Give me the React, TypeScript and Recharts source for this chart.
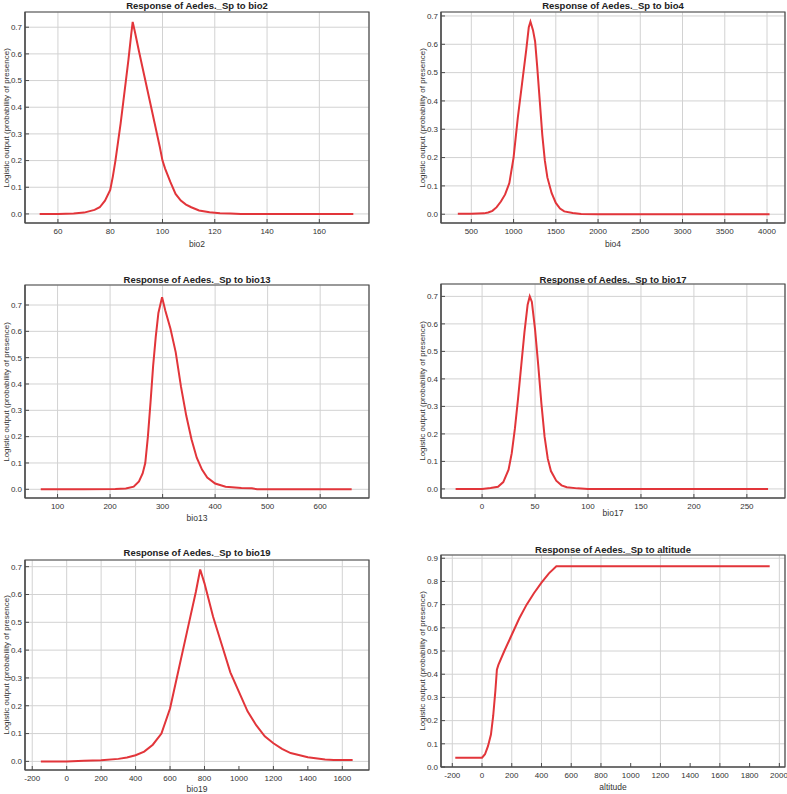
import { LineChart, Line, XAxis, YAxis, CartesianGrid, ReferenceArea } from 'recharts';

const SPECIES = 'Aedes._Sp';
const Y_LABEL = 'Logistic output (probability of presence)';

const bio2X = [53, 60, 66, 70, 74, 76, 78, 80, 81, 82, 83, 84, 85, 86, 87, 88, 88.6, 89.5, 91, 93, 95, 97, 99, 100, 101, 103, 105, 107, 109, 111, 114, 118, 122, 126, 130, 173];
const bio2Y = [0, 0, 0.002, 0.005, 0.015, 0.025, 0.05, 0.09, 0.14, 0.2, 0.27, 0.34, 0.42, 0.5, 0.58, 0.67, 0.72, 0.68, 0.61, 0.52, 0.43, 0.34, 0.25, 0.2, 0.17, 0.12, 0.075, 0.05, 0.035, 0.025, 0.013, 0.006, 0.003, 0.002, 0, 0];

const bio4X = [340, 500, 650, 700, 750, 800, 850, 900, 950, 1000, 1050, 1100, 1150, 1180, 1200, 1230, 1255, 1280, 1310, 1340, 1370, 1400, 1450, 1500, 1550, 1600, 1700, 1800, 2000, 4030];
const bio4Y = [0.002, 0.002, 0.003, 0.006, 0.012, 0.025, 0.045, 0.07, 0.11, 0.2, 0.34, 0.46, 0.58, 0.66, 0.68, 0.65, 0.61, 0.52, 0.4, 0.28, 0.19, 0.13, 0.075, 0.04, 0.02, 0.01, 0.004, 0.001, 0, 0];

const bio13X = [68, 150, 210, 230, 245, 255, 262, 267, 272, 277, 282, 287, 292, 299, 305, 315, 325, 335, 345, 355, 365, 375, 385, 400, 420, 450, 470, 480, 660];
const bio13Y = [0, 0, 0.001, 0.003, 0.01, 0.03, 0.06, 0.1, 0.2, 0.33, 0.47, 0.58, 0.67, 0.73, 0.68, 0.61, 0.52, 0.39, 0.28, 0.19, 0.12, 0.075, 0.045, 0.022, 0.01, 0.005, 0.004, 0, 0];

const bio17X = [-25, 0, 8, 15, 20, 25, 28, 31, 34, 37, 40, 43, 45, 47, 50, 53, 56, 59, 62, 65, 70, 75, 80, 90, 100, 270];
const bio17Y = [0, 0, 0.003, 0.008, 0.025, 0.07, 0.13, 0.22, 0.33, 0.45, 0.57, 0.67, 0.7, 0.68, 0.58, 0.45, 0.31, 0.19, 0.11, 0.065, 0.03, 0.013, 0.006, 0.002, 0, 0];

const bio19X = [-150, 0, 100, 200, 300, 350, 400, 450, 500, 550, 600, 650, 700, 750, 775, 800, 850, 900, 950, 1000, 1050, 1100, 1150, 1200, 1250, 1300, 1400, 1500, 1550, 1660];
const bio19Y = [0, 0, 0.002, 0.004, 0.009, 0.014, 0.022, 0.035, 0.06, 0.1, 0.19, 0.33, 0.47, 0.61, 0.69, 0.64, 0.52, 0.42, 0.32, 0.25, 0.18, 0.13, 0.09, 0.065, 0.045, 0.03, 0.015, 0.007, 0.005, 0.005];

const altX = [-180, -100, 0, 20, 40, 60, 75, 90, 100, 110, 150, 200, 250, 300, 350, 400, 450, 500, 1935];
const altY = [0.04, 0.04, 0.04, 0.055, 0.09, 0.14, 0.22, 0.33, 0.42, 0.44, 0.5, 0.57, 0.64, 0.7, 0.75, 0.795, 0.835, 0.865, 0.865];

const ticks07 = [0, 0.1, 0.2, 0.3, 0.4, 0.5, 0.6, 0.7];
const ticks09 = [0, 0.1, 0.2, 0.3, 0.4, 0.5, 0.6, 0.7, 0.8, 0.9];

const zip = (xs: number[], ys: number[]) => xs.map((x, i) => ({ x, y: ys[i] }));

const FONT = '"Liberation Sans", Arial, sans-serif';
const FRAME = '#4a4a4a';

interface PanelProps {
  variable: string;
  box: [number, number, number, number]; // plot left, top, right, bottom
  xDomain: [number, number];
  xTicks: number[];
  yDomain: [number, number];
  yTicks: number[];
  xs: number[];
  ys: number[];
  titleY: number;
  xLabelY: number;
  yLabelX: number;
}

function Panel({ variable, box, xDomain, xTicks, yDomain, yTicks, xs, ys, titleY, xLabelY, yLabelX }: PanelProps) {
  const [x0, y0, x1, y1] = box;
  const data = zip(xs, ys);
  const tickStyle = { fontSize: 8, fill: '#333', fontFamily: FONT };
  const axisLine = { stroke: FRAME, strokeWidth: 1.2 };
  const tickLine = { stroke: FRAME };
  return (
    <>
      <div style={{ position: 'absolute', left: x0 - 25, top: y0 - 10 }}>
        <LineChart width={x1 - x0 + 27} height={y1 - y0 + 30} data={data} margin={{ top: 10, right: 2, left: 0, bottom: 0 }}>
          <CartesianGrid stroke="#d2d2d2" strokeWidth={1} />
          <XAxis dataKey="x" type="number" domain={xDomain} ticks={xTicks} allowDataOverflow height={20}
            tick={tickStyle} tickSize={-4} tickMargin={9} axisLine={axisLine} tickLine={tickLine} />
          <YAxis type="number" domain={yDomain} ticks={yTicks} allowDataOverflow width={25}
            tick={tickStyle} tickSize={-4} tickMargin={7} axisLine={axisLine} tickLine={tickLine}
            tickFormatter={(v: number) => v.toFixed(1)} />
          <ReferenceArea x1={xDomain[0]} x2={xDomain[1]} y1={yDomain[0]} y2={yDomain[1]} ifOverflow="visible"
            fill="none" fillOpacity={0} stroke={FRAME} strokeWidth={1.2} />
          <Line dataKey="y" type="linear" stroke="#e2353a" strokeWidth={2} dot={false} isAnimationActive={false} />
        </LineChart>
      </div>
      <div style={{ position: 'absolute', left: (x0 + x1) / 2, top: titleY, transform: 'translate(-50%, -50%)', whiteSpace: 'nowrap',
        fontFamily: FONT, fontSize: 9.5, fontWeight: 'bold', color: '#222' }}>
        {`Response of ${SPECIES} to ${variable}`}
      </div>
      <div style={{ position: 'absolute', left: (x0 + x1) / 2, top: xLabelY, transform: 'translate(-50%, -50%)', whiteSpace: 'nowrap',
        fontFamily: FONT, fontSize: 8.5, color: '#333' }}>
        {variable}
      </div>
      <div style={{ position: 'absolute', left: yLabelX, top: (y0 + y1) / 2, transform: 'translate(-50%, -50%) rotate(-90deg)', whiteSpace: 'nowrap',
        fontFamily: FONT, fontSize: 8, color: '#333' }}>
        {Y_LABEL}
      </div>
    </>
  );
}

export default function App() {
  return (
    <div style={{ position: 'absolute', left: 0, top: 0, width: 787, height: 794, background: '#fff', overflow: 'hidden' }}>
      <Panel variable="bio2" box={[25, 12, 369, 223]} xDomain={[47.4, 179]} xTicks={[60, 80, 100, 120, 140, 160]}
        yDomain={[-0.034, 0.757]} yTicks={ticks07} xs={bio2X} ys={bio2Y} titleY={5} xLabelY={244} yLabelX={6} />
      <Panel variable="bio4" box={[441, 12, 785, 223]} xDomain={[141, 4213]} xTicks={[500, 1000, 1500, 2000, 2500, 3000, 3500, 4000]}
        yDomain={[-0.031, 0.714]} yTicks={ticks07} xs={bio4X} ys={bio4Y} titleY={5} xLabelY={244} yLabelX={422} />
      <Panel variable="bio13" box={[25, 285, 369, 498]} xDomain={[38, 693]} xTicks={[100, 200, 300, 400, 500, 600]}
        yDomain={[-0.033, 0.776]} yTicks={ticks07} xs={bio13X} ys={bio13Y} titleY={279} xLabelY={518} yLabelX={6} />
      <Panel variable="bio17" box={[441, 284, 785, 498]} xDomain={[-38.8, 286]} xTicks={[0, 50, 100, 150, 200, 250]}
        yDomain={[-0.033, 0.745]} yTicks={ticks07} xs={bio17X} ys={bio17Y} titleY={279} xLabelY={513} yLabelX={422} />
      <Panel variable="bio19" box={[25, 560, 369, 770]} xDomain={[-242, 1755]} xTicks={[-200, 0, 200, 400, 600, 800, 1000, 1200, 1400, 1600]}
        yDomain={[-0.031, 0.724]} yTicks={ticks07} xs={bio19X} ys={bio19Y} titleY={552} xLabelY={789} yLabelX={6} />
      <Panel variable="altitude" box={[441, 555, 785, 767]} xDomain={[-276, 2038]} xTicks={[-200, 0, 200, 400, 600, 800, 1000, 1200, 1400, 1600, 1800, 2000]}
        yDomain={[0, 0.914]} yTicks={ticks09} xs={altX} ys={altY} titleY={549} xLabelY={787} yLabelX={422} />
    </div>
  );
}
